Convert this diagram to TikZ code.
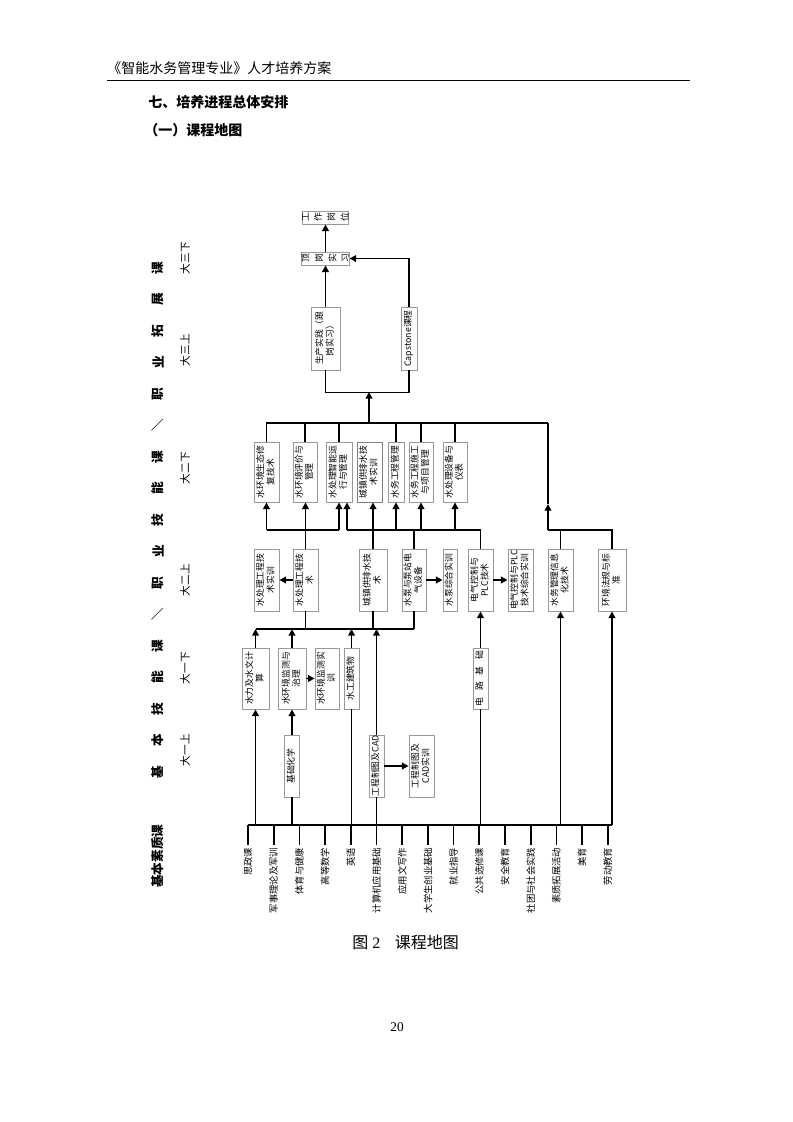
\documentclass[tikz,border=0pt]{standalone}
\usepackage{fontspec}
\setmainfont{Liberation Serif}
\newfontfamily\cjk{Noto Sans CJK SC}
\usepackage{graphicx}
\usetikzlibrary{arrows.meta}
\usetikzlibrary{calc}
\newcommand{\vtext}[1]{\rotatebox{90}{\begin{tabular}{@{}c@{}}#1\end{tabular}}}
\newcommand{\htext}[1]{\rotatebox{90}{\shortstack{#1}}}

\begin{document}
\begin{tikzpicture}[x=0.75pt, y=-0.75pt, >={Triangle[length=5pt,width=5pt]},
  box/.style 2 args={draw=gray!80, line width=0.6pt, inner sep=0pt, minimum width=#1*0.75pt, minimum height=#2*0.75pt, font=\cjk\fontsize{6.6}{7.5}\selectfont},
  link/.style={line width=1.25pt},
  lab/.style={rotate=90, anchor=east, inner sep=2pt, font=\cjk\fontsize{7}{7.5}\selectfont}]
\fill[white] (0,0) rectangle (793,1122);
\useasboundingbox (0,0) rectangle (793,1122);
% page head
\node[anchor=west, inner sep=0pt, font=\cjk\fontsize{10.5}{12}\selectfont] (head) at (107,68) {《智能水务管理专业》人才培养方案};
\draw[line width=0.6pt] (107,80) -- (690,80);
\node[anchor=west, inner sep=0pt, font=\cjk\bfseries\fontsize{10.5}{12}\selectfont] (sec) at (148,102) {七、培养进程总体安排};
\node[anchor=west, inner sep=0pt, font=\cjk\bfseries\fontsize{10.5}{12}\selectfont] (subsec) at (144,130) {（一）课程地图};
% left labels
\foreach \c [count=\i from 0] in {基,本,技,能,课,＼,职,业,技,能,课,＼,职,业,拓,展,课}
  \node[rotate=90, inner sep=0pt, font=\cjk\bfseries\fontsize{9.5}{10}\selectfont] (k\i) at (158,772-\i*31.5) {\c};
\node[rotate=90, inner sep=0pt, font=\cjk\bfseries\fontsize{9.5}{10}\selectfont] (jbsz) at (158,856) {基本素质课};
\foreach \t/\y [count=\i] in {大一上/750, 大一下/668, 大二上/580, 大二下/468, 大三上/350, 大三下/258}
  \node[rotate=90, inner sep=0pt, font=\cjk\fontsize{8}{9}\selectfont] (sem\i) at (185,\y) {\t};
% top
\node[box={45}{13}] (gw) at (325.5,217.5) {\htext{工\\[1pt]作\\[1pt]岗\\[1pt]位}};
\node[box={45}{13}] (dg) at (325.5,258.5) {\htext{顶\\[1pt]岗\\[1pt]实\\[1pt]习}};
\node[box={29}{63}] (sc) at (325.5,338.5) {\vtext{生产实践（跟\\岗实习）}};
\node[box={16}{63}] (cap) at (409,338.5) {\vtext{Capstone课程}};
% second year, term 2
\node[box={25}{60}] (stxf) at (266.5,472) {\vtext{水环境生态修\\复技术}};
\node[box={24}{60}] (hjpj) at (305,472) {\vtext{水环境评价与\\管理}};
\node[box={26}{60}] (znyx) at (339,472) {\vtext{水处理智能运\\行与管理}};
\node[box={25}{60}, draw=gray] (gpsx) at (369.5,472) {\vtext{城镇供排水技\\术实训}};
\node[box={16}{60}] (gcgl) at (396,472) {\vtext{水务工程管理}};
\node[box={24}{60}] (xmgl) at (421,472) {\vtext{水务工程施工\\与项目管理}};
\node[box={24}{60}] (sbyb) at (455,472) {\vtext{水处理设备与\\仪表}};
% second year, term 1
\node[box={25}{62}] (clsx) at (266.5,580) {\vtext{水处理工程技\\术实训}};
\node[box={25}{62}] (cljs) at (305.5,580) {\vtext{水处理工程技\\术}};
\node[box={28}{62}] (gpsjs) at (373,580) {\vtext{城镇供排水技\\术}};
\node[box={24}{62}] (bzdq) at (414,580) {\vtext{水泵与泵站电\\气设备}};
\node[box={14}{62}] (bzsx) at (450,580) {\vtext{水泵综合实训}};
\node[box={25}{62}] (plc) at (480.5,580) {\vtext{电气控制与\\PLC技术}};
\node[box={25}{62}] (plcsx) at (520.5,580) {\vtext{电气控制与PLC\\技术综合实训}};
\node[box={25}{62}] (xxh) at (560.5,580) {\vtext{水务管理信息\\化技术}};
\node[box={28}{62}] (fgbz) at (612,580) {\vtext{环境法规与标\\准}};
% first year, term 2
\node[box={27}{61}] (slsw) at (255.5,678.5) {\vtext{水力及水文计\\算}};
\node[box={28}{61}] (jczl) at (292,678.5) {\vtext{水环境监测与\\治理}};
\node[box={24}{61}] (jcsx) at (327,678.5) {\vtext{水环境监测实\\训}};
\node[box={15}{61}] (sgjz) at (351.5,678.5) {\vtext{水工建筑物}};
\node[box={15}{61}] (dljc) at (480.5,678.5) {\vtext{电\hspace{5pt}路\hspace{5pt}基\hspace{5pt}础}};
% first year, term 1
\node[box={15}{62}] (jchx) at (292,766) {\vtext{基础化学}};
\node[box={15}{62}] (zt) at (376.5,766) {\vtext{工程制图及CAD}};
\node[box={25}{62}] (ztsx) at (421.5,766) {\vtext{工程制图及\\CAD实训}};
% bus lines
\coordinate (b2a) at (0,423);
\coordinate (b2b) at (0,530);
\coordinate (b1a) at (0,629);
\coordinate (b0) at (0,825);
\coordinate (t3) at (369,392);
\coordinate (t2) at (369,423);
\coordinate (r1) at (548,530);
\coordinate (r2) at (548,423);
\coordinate (rb) at (347,530);
% top links
\draw[link,->] (sc.north) -- (dg.south);
\draw[link,->] (dg.north) -- (gw.south);
\draw[link,->] (cap.north) |- (dg.east);
\draw[link] (sc.south) -- ++(0,22) -| (cap.south);
\draw[link,->] (t2) -- (t3);
\draw[link] (stxf.north) |- (r2);
\foreach \n in {hjpj,znyx,gcgl,xmgl,sbyb}
  \draw[link] (\n.north) -- (\n.north |- b2a);
\draw[link,->] (r1) -- (548,504);
\draw[link] (548,504) -- (r2);
\draw[link] (xxh.north) |- (r1);
\draw[link] (fgbz.north) |- (r1);
% second year links
\draw[link] (stxf.south |- b2b) -- (znyx.south |- b2b);
\draw[link,->] (stxf.south |- b2b) -- (stxf.south);
\draw[link,->] (cljs.north) -- (cljs.north |- hjpj.south);
\draw[link,->] (znyx.south |- b2b) -- (znyx.south);
\draw[link] (rb) -| (plc.north);
\draw[link,->] (rb) -- (rb |- znyx.south);
\draw[link,->] (gpsjs.north) -- (gpsjs.north |- gpsx.south);
\foreach \n in {gcgl,xmgl,sbyb}
  \draw[link,->] (\n.south |- b2b) -- (\n.south);
\draw[link] (bzdq.north) -- (bzdq.north |- b2b);
\draw[link,->] (cljs.west) -- (clsx.east);
\draw[link,->] (bzdq.east) -- (bzsx.west);
\draw[link,->] (plc.east) -- (plcsx.west);
% first year links
\draw[link] (slsw.north |- b1a) -- (bzdq.south |- b1a);
\foreach \n in {cljs,gpsjs,bzdq}
  \draw[link] (\n.south) -- (\n.south |- b1a);
\foreach \n in {slsw,jczl,sgjz,zt}
  \draw[link,->] (\n.north) -- (\n.north |- b1a);
\draw[link,->] (jczl.east) -- (jcsx.west);
\draw[link,->] (zt.east) -- (ztsx.west);
\draw[link,->] (jchx.north) -- (jczl.south);
\draw[link,->] (dljc.north) -- (plc.south);
% basic courses
\draw[link] (248,825) -- (fgbz.south |- b0);
\draw[link,->] (slsw.south |- b0) -- (slsw.south);
\foreach \n in {jchx,sgjz,zt,dljc}
  \draw[link] (\n.south) -- (\n.south |- b0);
\draw[link,->] (xxh.south |- b0) -- (xxh.south);
\draw[link,->] (fgbz.south |- b0) -- (fgbz.south);
\foreach \t [count=\i from 0] in {思政课,军事理论及军训,体育与健康,高等数学,英语,计算机应用基础,应用文写作,大学生创业基础,就业指导,公共选修课,安全教育,社团与社会实践,素质拓展活动,美育,劳动教育}
{
  \coordinate (d\i) at (248+\i*25.7,825);
  \node[lab] (l\i) at (248+\i*25.7,845) {\t};
  \draw[link] (d\i) -- (l\i.east);
}
% caption
\node[anchor=west, inner sep=0pt, font=\fontsize{12}{14}\selectfont] (fig) at (352,942) {{\cjk 图} 2\hspace{11pt}{\cjk 课程地图}};
\node[inner sep=0pt, font=\fontsize{10}{12}\selectfont] (pg) at (397,1027) {20};
\end{tikzpicture}
\end{document}
